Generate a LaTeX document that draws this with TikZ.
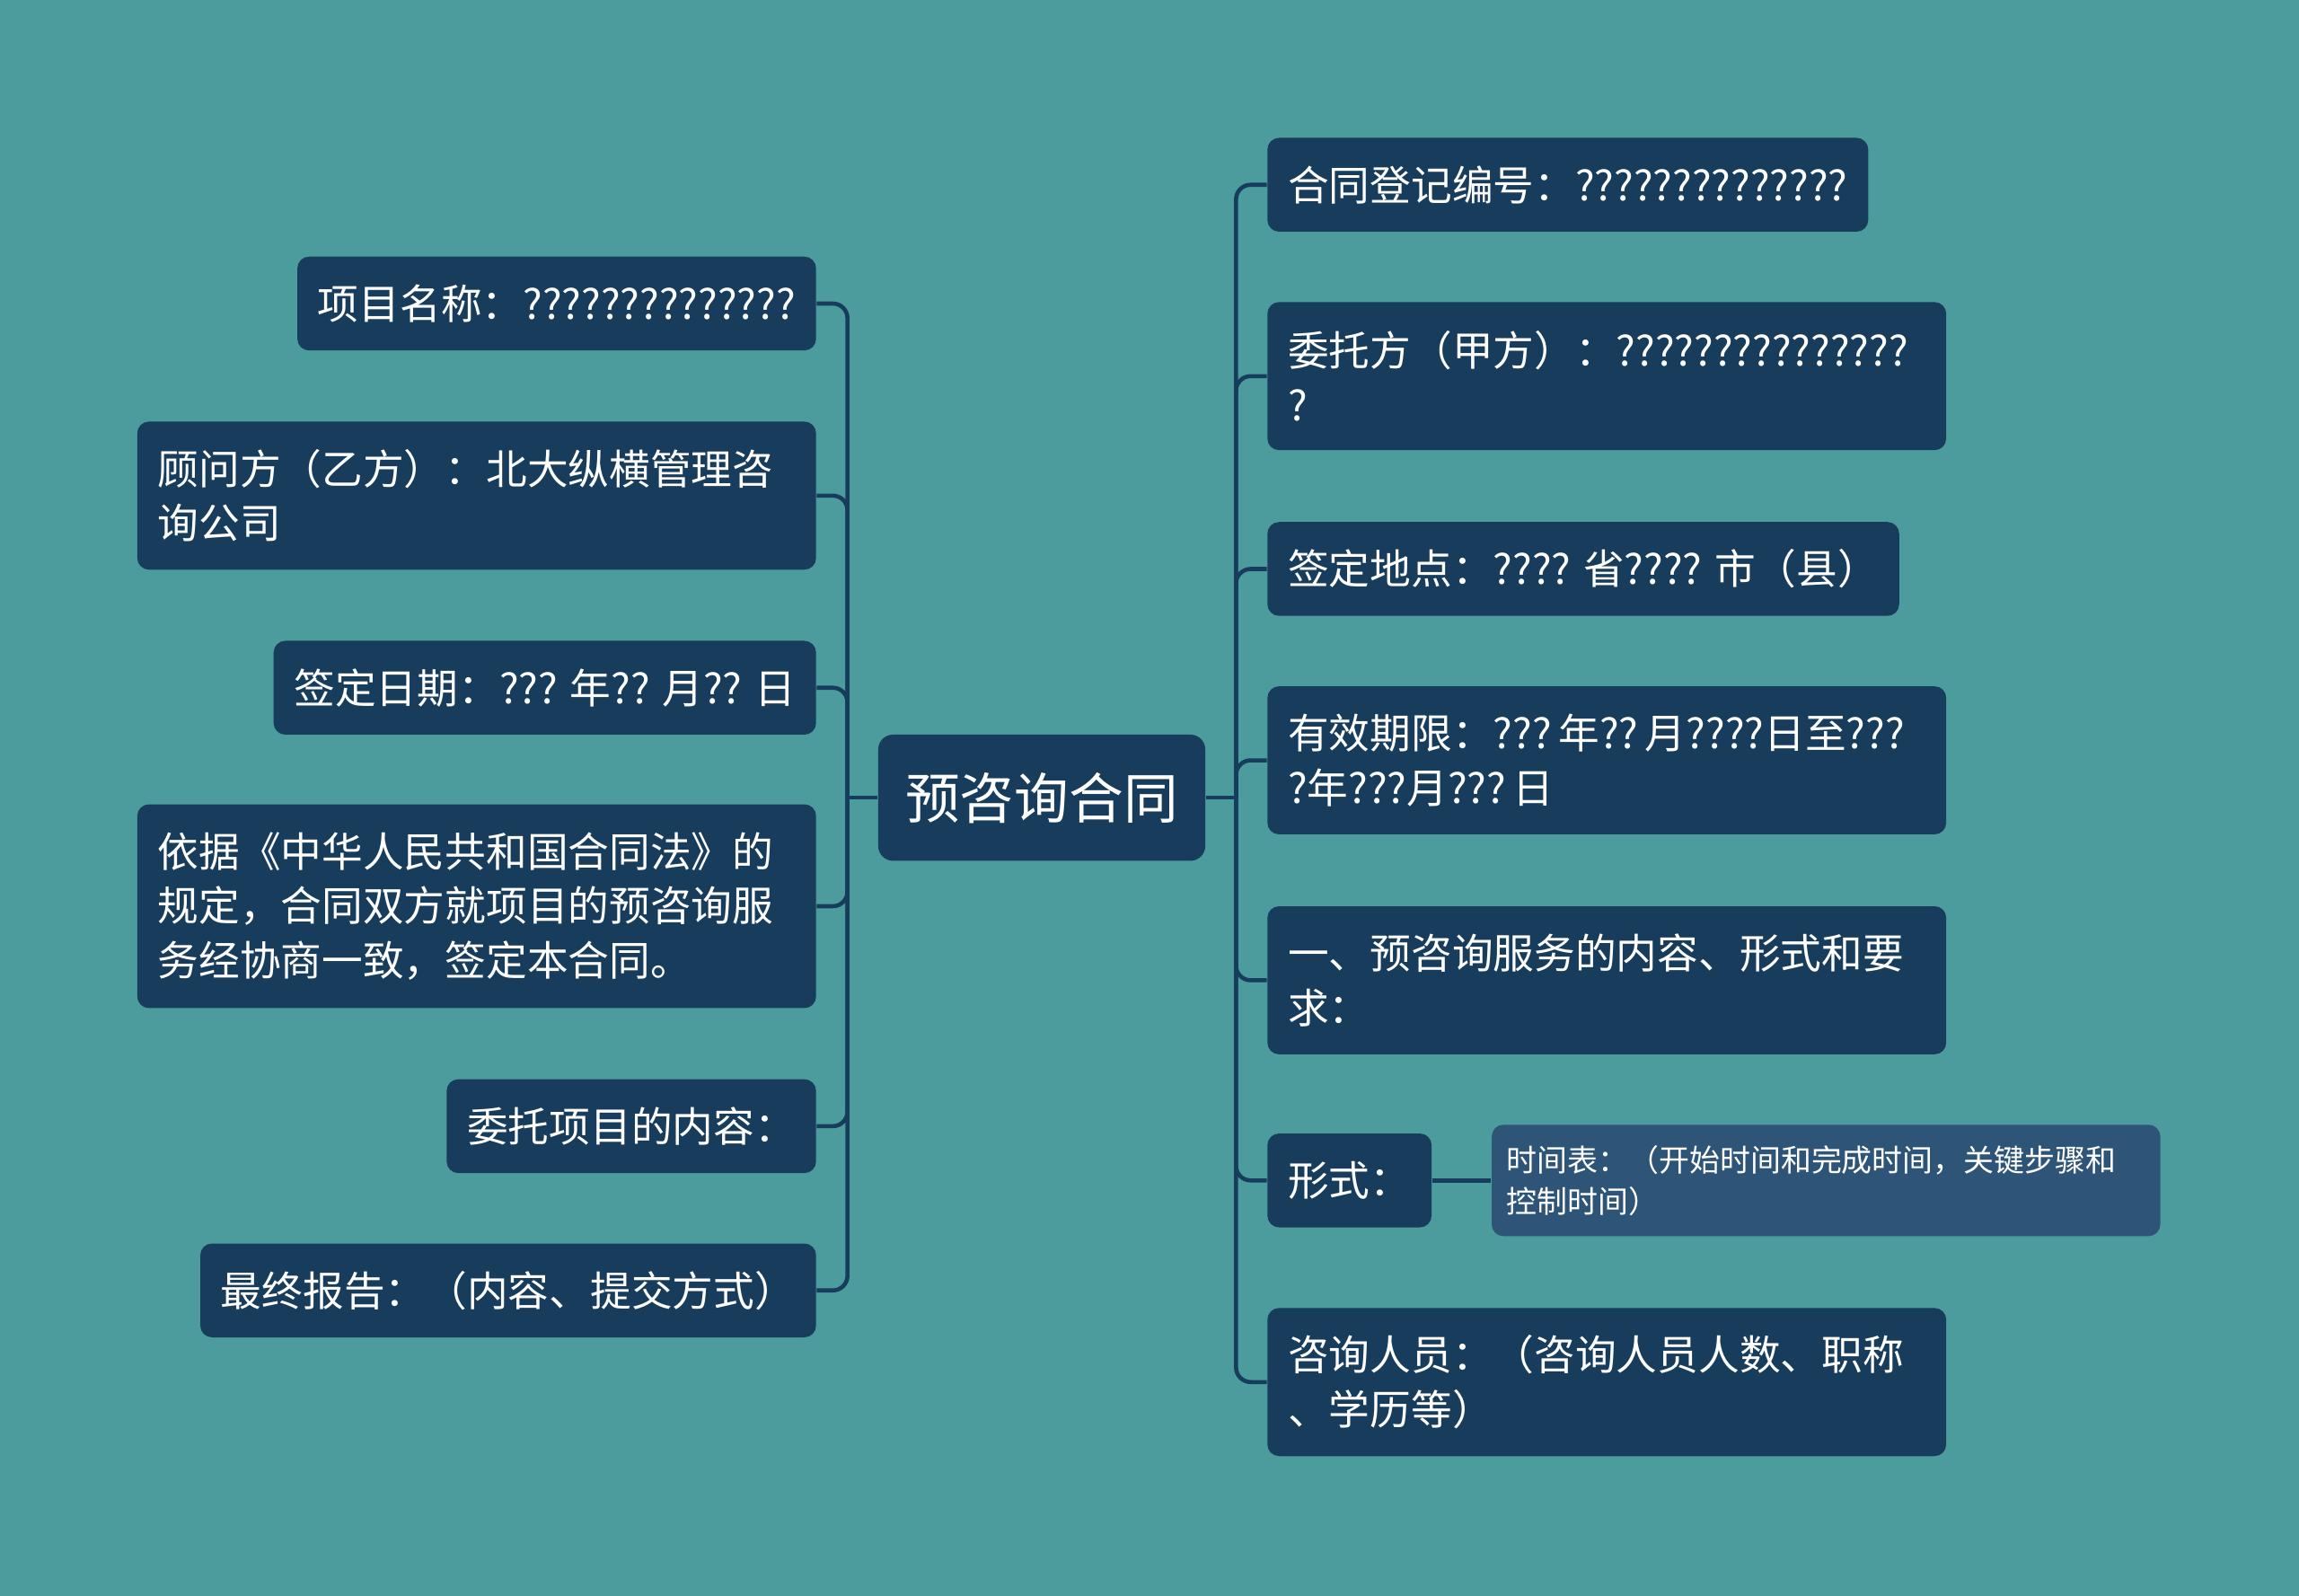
\documentclass[tikz,border=0pt]{standalone}
\usepackage{fontspec}
\newfontfamily\cjk{Noto Sans CJK SC}
\definecolor{bgteal}{HTML}{4C9C9E}
\definecolor{boxnavy}{HTML}{173C5C}
\definecolor{subnavy}{HTML}{2E5577}

\tikzset{
  topic/.style={fill=boxnavy, rounded corners=4pt, text=white, align=left,
    font=\cjk\fontsize{14}{18.5}\selectfont, inner xsep=7pt, inner ysep=0pt,
    minimum height=32pt},
  twoline/.style={text width=217.5pt, minimum height=50.5pt},
  threeline/.style={text width=217.5pt, minimum height=69.5pt},
  subtopic/.style={fill=subnavy, rounded corners=4pt, text=white, align=left,
    font=\cjk\fontsize{10.4}{14}\selectfont, inner xsep=5pt, inner ysep=0pt,
    text width=218pt, minimum height=38pt},
  branch/.style={draw=boxnavy, line width=1.4pt, rounded corners=5pt}
}

\begin{document}
\begin{tikzpicture}[x=0.5pt, y=-0.5pt]
    % Background
    \useasboundingbox (0,0) rectangle (1568,1088);
    \fill[bgteal] (-4,-4) rectangle (1572,1092);

    % Central topic
    \node[fill=boxnavy, rounded corners=5pt, text=white, font=\cjk\fontsize{18.6}{22}\selectfont,
          minimum width=111.5pt, minimum height=43pt, inner sep=0pt] (root) at (710.5,544) {预咨询合同};

    % Trunk junctions
    \coordinate (lj) at (578,544);
    \coordinate (rj) at (843,544);

    % Left topics
    \node[topic, anchor=east] (name) at (557,207) {项目名称：??????????????};
    \node[topic, twoline, anchor=east] (advisor) at (557,338) {顾问方（乙方）：北大纵横管理咨\\询公司};
    \node[topic, anchor=east] (signdate) at (557,469) {签定日期：??? 年?? 月?? 日};
    \node[topic, threeline, anchor=east] (basis) at (557,618)
        {依据《中华人民共和国合同法》的\\规定，合同双方就项目的预咨询服\\务经协商一致，签定本合同。};
    \node[topic, anchor=east] (content) at (557,768) {委托项目的内容：};
    \node[topic, anchor=east] (report) at (557,880) {最终报告：（内容、提交方式）};

    % Right topics
    \node[topic, anchor=west] (regno) at (864,126) {合同登记编号：??????????????};
    \node[topic, twoline, anchor=west] (client) at (864,256.5) {委托方（甲方）：???????????????\\?};
    \node[topic, anchor=west] (place) at (864,388) {签定地点：???? 省???? 市（县）};
    \node[topic, twoline, anchor=west] (period) at (864,518.5)
        {\mbox{有效期限：???\,年??\,月????日至???}\\\mbox{?年???月???\,日}};
    \node[topic, twoline, anchor=west] (service) at (864,668.5) {一、预咨询服务的内容、形式和要\\求：};
    \node[topic, anchor=west] (form) at (864,805) {形式：};
    \node[topic, twoline, anchor=west] (staff) at (864,942.5) {咨询人员：（咨询人员人数、职称\\、学历等）};

    % Sub topic
    \node[subtopic, anchor=west] (schedule) at (1017,805)
        {时间表：（开始时间和完成时间，关键步骤和\\控制时间）};

    % Connectors
    \draw[branch] (root.west) -- (lj);
    \draw[branch] (root.east) -- (rj);
    \foreach \n in {name,advisor,signdate,basis,content,report}
        \draw[branch] (lj) |- (\n.east);
    \foreach \n in {regno,client,place,period,service,form,staff}
        \draw[branch] (rj) |- (\n.west);
    \draw[branch] (form.east) -- (schedule.west);
\end{tikzpicture}
\end{document}
